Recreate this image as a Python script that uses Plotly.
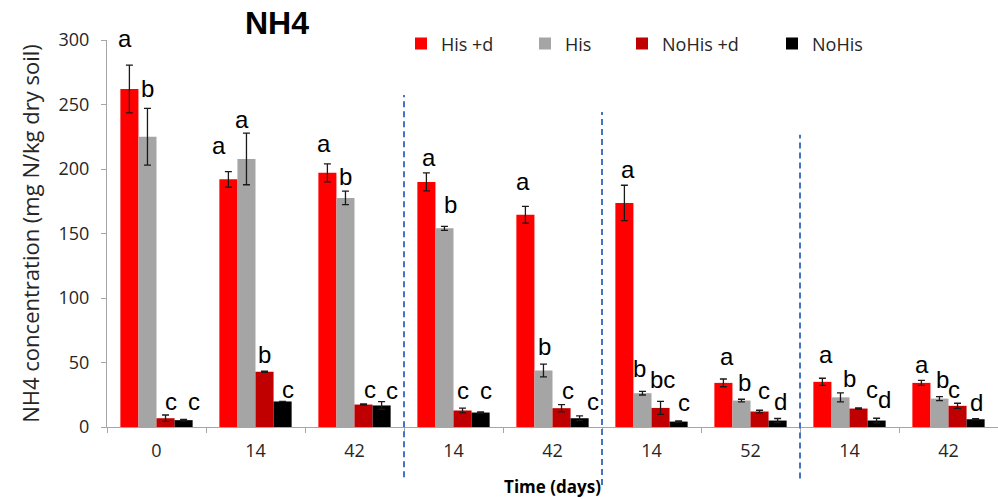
import plotly.graph_objects as go

# Sampling day for each group of bars (three experiments separated by dashed lines)
days = ["0", "14", "42", "14", "42", "14", "52", "14", "42"]
series_names = ["His +d", "His", "NoHis +d", "NoHis"]

# NH4 concentration (mg N / kg dry soil), mean and standard error
his_d = [262, 192, 197, 190, 164.6, 173.7, 34.2, 35.0, 34.2]
his_d_err = [18.5, 6, 7, 7, 6.5, 13.7, 3, 2.8, 2]
his = [225, 207.8, 177.6, 154, 43.8, 26.2, 20.5, 23, 22]
his_err = [22, 20, 5.2, 1.5, 5, 1.4, 1, 3.5, 1.5]
nohis_d = [6.8, 42.8, 17.4, 12.8, 14.6, 14.8, 12, 14.3, 16.4]
nohis_d_err = [2.5, 0.5, 0.5, 1.8, 2.8, 5, 1, 0.5, 2]
nohis = [5.3, 19.8, 16.7, 11.2, 6.8, 4.2, 5, 5, 6]
nohis_err = [0.5, 0, 3, 0.5, 1.8, 0.5, 1.6, 1.8, 0.5]

# Significance letters
letters_his_d = ["a", "a", "a", "a", "a", "a", "a", "a", "a"]
letters_his = ["b", "a", "b", "b", "b", "b", "b", "b", "b"]
letters_nohis_d = ["c", "b", "c", "c", "c", "bc", "c", "c", "c"]
letters_nohis = ["c", "c", "c", "c", "c", "c", "d", "d", "d"]

# Boundaries between the three experiments
separators = [2.5, 4.5, 6.5]

values = [his_d, his, nohis_d, nohis]
errors = [his_d_err, his_err, nohis_d_err, nohis_err]
letters = [letters_his_d, letters_his, letters_nohis_d, letters_nohis]
colors = ["#FF0000", "#A5A5A5", "#C00000", "#000000"]

# Hand placement of the letters: (horizontal shift px, gap above error bar px)
letter_nudge = [
    [(-4, 17), (-9, 17), (-3, 11), (2.5, 6), (-2.5, 15.5), (3.5, 6), (3.5, 13), (4, 14), (0.5, 6)],
    [(0, 10), (-4, 4), (0, 5), (6.5, 12.5), (1.5, 8), (-3.3, 13), (3.4, 7.5), (9.4, 5), (3.4, 7.4)],
    [(5.7, 4), (0, 7), (6, 5), (0, 8.5), (6.5, 4.6), (2.3, 12), (4.5, 10.5), (13, 9), (-3.3, 4.3)],
    [(10, 9), (5, 2), (10, 2), (5, 11.5), (13, 4.6), (5.7, 9.4), (3, 7.3), (8, 9), (1, 6.6)],
]

x_idx = list(range(len(days)))
bargap = 0.27
bar_w = (1 - bargap) / 4
axis_grey = "#A6A6A6"
tick_font = dict(family="Open Sans", size=18, color="#262626")

legend_x_px = [401, 525, 622, 772]
plot_left, plot_w = 107, 891

fig = go.Figure()
for k in range(4):
    fig.add_trace(go.Bar(
        x=x_idx, y=values[k], name=series_names[k], showlegend=True,
        marker=dict(color=colors[k], line=dict(width=0)),
        error_y=dict(type="data", array=errors[k], visible=True,
                     color="#1A1A1A", thickness=1.3, width=3.5),
        legend="legend" if k == 0 else f"legend{k + 1}",
    ))

annotations = []
letter_desc = 6
for k in range(4):
    for i in x_idx:
        dx, gap = letter_nudge[k][i]
        annotations.append(dict(
            x=i + (k - 1.5) * bar_w, y=values[k][i] + errors[k][i],
            xref="x", yref="y", text=letters[k][i], showarrow=False,
            xanchor="center", yanchor="bottom",
            xshift=dx, yshift=gap - letter_desc,
            font=dict(family="Liberation Sans", size=24, color="#000000"),
        ))

shapes = []
sep_extent = [(-0.13, 0.858), (-0.15, 0.814), (-0.133, 0.755)]
for s, (y0, y1) in zip(separators, sep_extent):
    shapes.append(dict(type="line", xref="x", yref="paper", x0=s, x1=s, y0=y0, y1=y1,
                       line=dict(color="#4472C4", width=2, dash="6px,4px")))

legends = {}
for k in range(4):
    key = "legend" if k == 0 else f"legend{k + 1}"
    legends[key] = dict(
        orientation="h", x=(legend_x_px[k] - plot_left) / plot_w, y=0.99,
        xanchor="left", yanchor="middle", bgcolor="rgba(0,0,0,0)",
        font=dict(family="Open Sans", size=18, color="#262626"),
    )

fig.update_layout(
    width=998, height=499,
    margin=dict(l=107, r=0, t=40, b=72),
    paper_bgcolor="white", plot_bgcolor="white",
    showlegend=True,
    barmode="group", bargap=bargap, bargroupgap=0,
    title=dict(text="<b>NH4</b>", x=277 / 998, xanchor="center", y=1 - 23 / 499,
               yanchor="middle", font=dict(family="Liberation Sans", size=32, color="#000000")),
    annotations=annotations, shapes=shapes,
    **legends,
)
fig.update_xaxes(
    range=[-0.5, 8.5], tickmode="array", tickvals=x_idx, ticktext=days,
    ticks="outside", ticklen=7, tickcolor="rgba(0,0,0,0)",
    minor=dict(tickmode="array", tickvals=[i - 0.5 for i in range(len(days) + 1)],
               ticks="outside", ticklen=5, tickcolor=axis_grey, showgrid=False),
    showline=True, linecolor=axis_grey, linewidth=1, showgrid=False, zeroline=False,
    tickfont=tick_font,
    title=dict(text="<b>Time (days)</b>", standoff=20,
               font=dict(family="Open Sans", size=17, color="#000000")),
)
fig.update_yaxes(
    range=[0, 300], tickmode="array", tickvals=[0, 50, 100, 150, 200, 250, 300],
    ticks="outside", ticklen=5, tickcolor=axis_grey, showline=True, linecolor=axis_grey,
    linewidth=1, showgrid=False, zeroline=False, tickfont=tick_font,
    ticklabelstandoff=8,
    title=dict(text="NH4 concentration (mg N/kg dry soil)", standoff=12,
               font=dict(family="Open Sans", size=22, color="#262626")),
)

fig.write_html("out.html")
